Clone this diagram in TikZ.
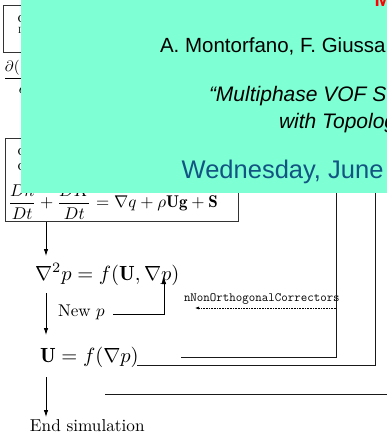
\documentclass[tikz,border=0pt]{standalone}
\usepackage{fontspec}
\newfontfamily\hel{Liberation Sans}
\usetikzlibrary{arrows.meta}
\definecolor{panel}{RGB}{127,255,212}
\definecolor{dateblue}{RGB}{18,84,130}
\begin{document}
\begin{tikzpicture}[x=1pt,y=-1pt,
  txt/.style={inner sep=0pt,outer sep=0pt,anchor=base west,font=\fontsize{10}{12}\selectfont},
  flow/.style={line width=0.8pt,-{Latex[length=7pt,width=4.5pt]}},
  wire/.style={line width=0.9pt,black!90},
  boxline/.style={draw=black!80,line width=0.6pt}]
\useasboundingbox (0,0) rectangle (387,434);

% ---- upper (mostly hidden) part of the flow chart ----
\draw[boxline] (3.3,5) rectangle (250,52);
\node[txt] (f1) at (17.5,22) {\scalebox{1.6}{c}};
\node[txt] (f2) at (18,33) {\scalebox{0.9}{I}};
\node[txt] (num) at (5,71) {\scalebox{1.5}{$\partial($}};
\draw[line width=0.8pt] (5,78) -- (60,78);
\node[txt] (den) at (19,93) {\scalebox{1.5}{$\partial t$}};

\draw[boxline] (5,138) rectangle (238,221);
\node[txt] (f3) at (17.5,155) {\scalebox{1.6}{c}};
\node[txt] (f4) at (17.5,170) {\scalebox{1.6}{c}};
\node[txt] (energy) at (8,207.5)
  {\scalebox{1.7}{$\displaystyle\frac{Dh}{Dt}+\frac{DK}{Dt}=\nabla q+\rho\mathbf{U}\mathbf{g}+\mathbf{S}$}};

% ---- lower part ----
\node[txt] (peq) at (35,280) {\scalebox{2.05}{$\nabla^2 p = f(\mathbf{U},\nabla p)$}};
\node[txt] (newp) at (58,316) {\scalebox{1.7}{New $p$}};
\node[txt] (ueq) at (40,362) {\scalebox{2.05}{$\mathbf{U} = f(\nabla p)$}};
\node[txt] (endsim) at (30,431) {\scalebox{1.72}{End simulation}};
\node[txt,font=\fontsize{12.6}{14}\ttfamily] (nonorth) at (184,301) {nNonOrthogonalCorrectors};

\coordinate (a1s) at (46,222);  \coordinate (a1e) at (46,256);
\coordinate (a2s) at (46,293);  \coordinate (a2e) at (46,335);
\coordinate (a3s) at (46,377);  \coordinate (a3e) at (46,417);
\coordinate (np1) at (113,314); \coordinate (np2) at (164,314); \coordinate (np3) at (164,277);
\coordinate (d1) at (336,308);  \coordinate (d2) at (195,308);
\coordinate (la1) at (181,357); \coordinate (la2) at (336,357); \coordinate (la3) at (336,190);
\coordinate (lb1) at (137,365); \coordinate (lb2) at (375,365); \coordinate (lb3) at (375,190);
\coordinate (lc1) at (105,394); \coordinate (lc2) at (388,394);

\draw[flow] (a1s) -- (a1e);
\draw[flow] (a2s) -- (a2e);
\draw[flow] (a3s) -- (a3e);
\draw[flow] (np1) -- (np2) -- (np3);
\draw[densely dotted,line width=0.6pt,-{Latex[length=4pt,width=3pt]}] (d1) -- (d2);
\draw[wire] (la1) -- (la2) -- (la3);
\draw[wire] (lb1) -- (lb2) -- (lb3);
\draw[wire] (lc1) -- (lc2);

% ---- overlapping title panel ----
\fill[panel] (20.7,-2) rectangle (390,193);
\node[txt,font=\hel\bfseries\fontsize{20}{24}\selectfont,text=red] (red) at (374.5,6) {M};
\node[txt,font=\hel\fontsize{20.5}{24}\selectfont] (authors) at (160,52.7) {A. Montorfano, F. Giussa};
\node[txt,font=\hel\itshape\fontsize{21}{25}\selectfont] (title1) at (209,101.7) {“Multiphase VOF S};
\node[txt,font=\hel\itshape\fontsize{21}{25}\selectfont] (title2) at (279,128) {with Topolog};
\node[txt,font=\hel\fontsize{25.5}{30}\selectfont,text=dateblue] (date) at (181.7,178.3) {Wednesday, June};
\end{tikzpicture}
\end{document}
